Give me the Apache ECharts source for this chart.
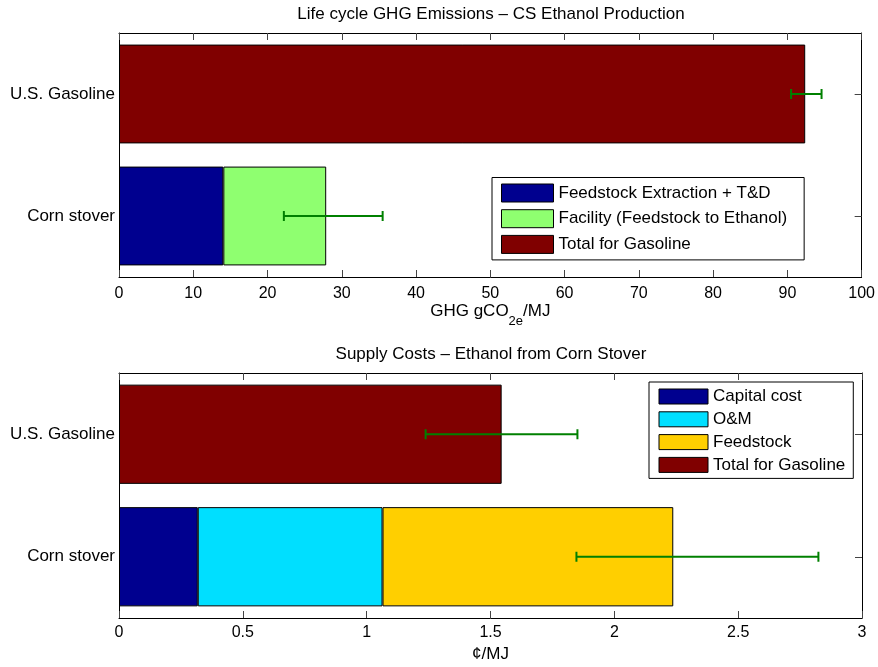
<!DOCTYPE html>
<html>
<head>
<meta charset="utf-8">
<script src="https://cdn.jsdelivr.net/npm/echarts@6/dist/echarts.min.js"></script>
<style>
html,body{margin:0;padding:0;background:#fff;}
#main{width:878px;height:667px;}
</style>
</head>
<body>
<div id="main"></div>
<script>
// ---------- data ----------
const categories = ['Corn stover', 'U.S. Gasoline'];

// Top chart: life cycle GHG emissions (gCO2e/MJ)
const ghgFeedstock = [14.05, null];
const ghgFacility = [13.85, null];
const ghgGasoline = [null, 92.4];
const ghgErrLow = [22.2, 90.5];
const ghgErrHigh = [35.5, 94.6];
const ghgTicks = [0, 10, 20, 30, 40, 50, 60, 70, 80, 90, 100];

// Bottom chart: supply costs (cents/MJ)
const costCapital = [0.318, null];
const costOM = [0.746, null];
const costFeedstock = [1.174, null];
const costGasoline = [null, 1.545];
const costErrLow = [1.847, 1.238];
const costErrHigh = [2.824, 1.851];
const costTicks = [0, 0.5, 1, 1.5, 2, 2.5, 3];

// ---------- styling ----------
const FONT = 'Liberation Sans, Arial, Helvetica, sans-serif';
const C_NAVY = '#00008F', C_GREEN = '#8FFF70', C_RED = '#800000',
      C_CYAN = '#00DFFF', C_YELLOW = '#FFCF00', C_ERR = '#008000';

function errSeries(gridIdx, lows, highs) {
  return {
    type: 'custom', xAxisIndex: gridIdx * 2, yAxisIndex: gridIdx * 2, z: 10, silent: true,
    encode: { x: [0, 1], y: 2 },
    data: lows.map((l, i) => [l, highs[i], i]),
    renderItem: function (params, api) {
      const y = api.value(2);
      const p1 = api.coord([api.value(0), y]);
      const p2 = api.coord([api.value(1), y]);
      const h = 5;
      const st = { stroke: C_ERR, lineWidth: 2 };
      return { type: 'group', children: [
        { type: 'line', shape: { x1: p1[0], y1: p1[1], x2: p2[0], y2: p2[1] }, style: st },
        { type: 'line', shape: { x1: p1[0], y1: p1[1] - h, x2: p1[0], y2: p1[1] + h }, style: st },
        { type: 'line', shape: { x1: p2[0], y1: p2[1] - h, x2: p2[0], y2: p2[1] + h }, style: st }
      ]};
    }
  };
}

function barSeries(name, data, color, gridIdx) {
  return {
    name: name, type: 'bar', stack: 's' + gridIdx,
    xAxisIndex: gridIdx * 2, yAxisIndex: gridIdx * 2,
    barWidth: '81%', data: data,
    itemStyle: { color: color, borderColor: '#000', borderWidth: 1 },
    emphasis: { disabled: true }
  };
}

function xAxes(gridIdx, ticks, nameStr, nameGap, labelMargin, rich) {
  const min = ticks[0], max = ticks[ticks.length - 1], interval = ticks[1] - ticks[0];
  const base = {
    type: 'value', gridIndex: gridIdx, min: min, max: max, interval: interval,
    splitLine: { show: false },
    axisLine: { show: true, onZero: false, lineStyle: { color: '#000', width: 1 } },
    axisTick: { show: true, inside: true, length: 7, lineStyle: { color: '#444' } }
  };
  return [
    Object.assign({}, base, {
      position: 'bottom',
      axisLabel: { show: true, margin: labelMargin, fontFamily: FONT, fontSize: 16, color: '#000' },
      name: nameStr, nameLocation: 'middle', nameGap: nameGap,
      nameTextStyle: { fontFamily: FONT, fontSize: 17, color: '#000', rich: rich }
    }),
    Object.assign({}, base, { position: 'top', axisLabel: { show: false } })
  ];
}

function yAxes(gridIdx) {
  return [
    {
      type: 'category', gridIndex: gridIdx, data: categories, position: 'left',
      axisLine: { show: true, onZero: false, lineStyle: { color: '#000', width: 1 } },
      axisTick: { show: true, inside: true, length: 7, alignWithLabel: true, lineStyle: { color: '#444' } },
      axisLabel: { margin: 4, fontFamily: FONT, fontSize: 17, color: '#000' }
    },
    {
      type: 'category', gridIndex: gridIdx, data: categories, position: 'right',
      axisLine: { show: true, onZero: false, lineStyle: { color: '#000', width: 1 } },
      axisTick: { show: true, inside: true, length: 7, alignWithLabel: true, lineStyle: { color: '#444' } },
      axisLabel: { show: false }
    }
  ];
}

const subRich = {
  n: { fontFamily: FONT, fontSize: 17, lineHeight: 17, verticalAlign: 'top', color: '#000' },
  sub: { fontFamily: FONT, fontSize: 13, lineHeight: 13, verticalAlign: 'top', padding: [12, 0, 0, 0], color: '#000' }
};

const option = {
  animation: false,
  backgroundColor: '#fff',
  title: [
    { text: 'Life cycle GHG Emissions \u2013 CS Ethanol Production', left: 491, top: 6, textAlign: 'center', padding: 0,
      textStyle: { fontFamily: FONT, fontSize: 17, fontWeight: 'normal', color: '#000' } },
    { text: 'Supply Costs \u2013 Ethanol from Corn Stover', left: 491, top: 345.5, textAlign: 'center', padding: 0,
      textStyle: { fontFamily: FONT, fontSize: 17, fontWeight: 'normal', color: '#000' } }
  ],
  grid: [
    { left: 119, top: 33, width: 743, height: 244, containLabel: false },
    { left: 119, top: 373, width: 743, height: 245, containLabel: false }
  ],
  legend: [
    {
      orient: 'vertical', left: 492, top: 177.5, selectedMode: false,
      data: ['Feedstock Extraction + T&D', 'Facility (Feedstock to Ethanol)', 'Total for Gasoline'],
      itemWidth: 52, itemHeight: 18, itemGap: 6.7, icon: 'rect',
      padding: [6, 17, 6, 9], borderColor: '#000', borderWidth: 1, backgroundColor: '#fff',
      itemStyle: { borderColor: '#000', borderWidth: 1 },
      textStyle: { fontFamily: FONT, fontSize: 17, lineHeight: 18, color: '#000' }
    },
    {
      orient: 'vertical', left: 649, top: 382, selectedMode: false,
      data: ['Capital cost', 'O&M', 'Feedstock', 'Total for Gasoline'],
      itemWidth: 49, itemHeight: 15, itemGap: 5.8, icon: 'rect',
      padding: [6, 8, 5, 9.5], borderColor: '#000', borderWidth: 1, backgroundColor: '#fff',
      itemStyle: { borderColor: '#000', borderWidth: 1 },
      textStyle: { fontFamily: FONT, fontSize: 17, lineHeight: 15, color: '#000' }
    }
  ],
  xAxis: [].concat(
    xAxes(0, ghgTicks, '{n|GHG gCO}{sub|2e}{n|/MJ}', 24, 9, subRich),
    xAxes(1, costTicks, '\u00A2/MJ', 28, 7, undefined)
  ),
  yAxis: [].concat(yAxes(0), yAxes(1)),
  series: [
    barSeries('Feedstock Extraction + T&D', ghgFeedstock, C_NAVY, 0),
    barSeries('Facility (Feedstock to Ethanol)', ghgFacility, C_GREEN, 0),
    barSeries('Total for Gasoline', ghgGasoline, C_RED, 0),
    errSeries(0, ghgErrLow, ghgErrHigh),
    barSeries('Capital cost', costCapital, C_NAVY, 1),
    barSeries('O&M', costOM, C_CYAN, 1),
    barSeries('Feedstock', costFeedstock, C_YELLOW, 1),
    barSeries('Total for Gasoline', costGasoline, C_RED, 1),
    errSeries(1, costErrLow, costErrHigh)
  ]
};

const chart = echarts.init(document.getElementById('main'), null, { renderer: 'canvas' });
chart.setOption(option);
</script>
</body>
</html>
